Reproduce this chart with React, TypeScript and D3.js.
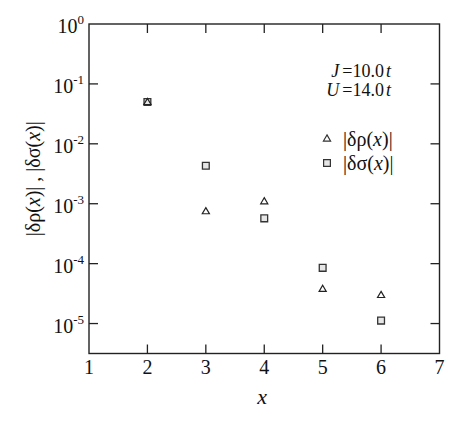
import React, { useRef, useEffect } from 'react'
import * as d3 from 'd3'

const xs = [2, 3, 4, 5, 6]
const rhoValues = [0.05, 7.5e-4, 1.1e-3, 3.8e-5, 3.0e-5]
const sigmaValues = [0.05, 4.3e-3, 5.7e-4, 8.5e-5, 1.12e-5]
const xTicks = [1, 2, 3, 4, 5, 6, 7]
const yExponents = [0, -1, -2, -3, -4, -5]

const FONT = 'Liberation Serif'

export default function App() {
  const svgRef = useRef<SVGSVGElement>(null)

  useEffect(() => {
    if (!svgRef.current) return
    const svg = d3.select(svgRef.current)
    svg.selectAll('*').remove()

    const width = 463
    const height = 429
    const margin = { t: 24, r: 23.5, b: 75.5, l: 89 }
    const x = d3.scaleLinear().domain([1, 7]).range([margin.l, width - margin.r])
    const y = d3.scaleLog().domain([Math.pow(10, -5.5), 1]).range([height - margin.b, margin.t])
    const x0 = x.range()[0], x1 = x.range()[1]
    const y0 = y.range()[0], y1 = y.range()[1]
    const axisColor = '#222'
    const tickLen = 9

    svg.append('rect').attr('width', width).attr('height', height).attr('fill', '#fff')

    // frame
    svg.append('rect')
      .attr('x', x0).attr('y', y1)
      .attr('width', x1 - x0).attr('height', y0 - y1)
      .attr('fill', 'none').attr('stroke', axisColor).attr('stroke-width', 1.4)

    // x ticks, top and bottom
    const inner = xTicks.slice(1, -1)
    svg.append('g').selectAll('line').data(inner).enter().append('line')
      .attr('x1', d => x(d)).attr('x2', d => x(d))
      .attr('y1', y0).attr('y2', y0 - tickLen)
      .attr('stroke', axisColor).attr('stroke-width', 1.3)
    svg.append('g').selectAll('line').data(inner).enter().append('line')
      .attr('x1', d => x(d)).attr('x2', d => x(d))
      .attr('y1', y1).attr('y2', y1 + tickLen)
      .attr('stroke', axisColor).attr('stroke-width', 1.3)

    // y ticks, left and right
    const innerY = yExponents.slice(1)
    svg.append('g').selectAll('line').data(innerY).enter().append('line')
      .attr('x1', x0).attr('x2', x0 + tickLen)
      .attr('y1', d => y(Math.pow(10, d))).attr('y2', d => y(Math.pow(10, d)))
      .attr('stroke', axisColor).attr('stroke-width', 1.3)
    svg.append('g').selectAll('line').data(innerY).enter().append('line')
      .attr('x1', x1).attr('x2', x1 - tickLen)
      .attr('y1', d => y(Math.pow(10, d))).attr('y2', d => y(Math.pow(10, d)))
      .attr('stroke', axisColor).attr('stroke-width', 1.3)

    // x tick labels
    svg.append('g').selectAll('text').data(xTicks).enter().append('text')
      .attr('x', d => x(d)).attr('y', y0 + 20)
      .attr('text-anchor', 'middle')
      .attr('font-family', FONT).attr('font-size', 20).attr('fill', '#111')
      .text(d => d)

    // y tick labels: 10^n
    const yl = svg.append('g').selectAll('text').data(yExponents).enter().append('text')
      .attr('x', x0 - 5).attr('y', d => y(Math.pow(10, d)) + 9)
      .attr('text-anchor', 'end')
      .attr('font-family', FONT).attr('font-size', 20).attr('fill', '#111')
    yl.append('tspan').text('10')
    yl.append('tspan').attr('dy', -9).attr('font-size', 13).text(d => d === 0 ? '0' : `-${-d}`)

    // axis titles
    svg.append('text')
      .attr('x', x(4) - 2).attr('y', y0 + 50)
      .attr('text-anchor', 'middle')
      .attr('font-family', FONT).attr('font-size', 22).attr('font-style', 'italic').attr('fill', '#111')
      .text('x')

    const yt = svg.append('text')
      .attr('transform', `translate(40,${(y0 + y1) / 2 - 10}) rotate(-90)`)
      .attr('text-anchor', 'middle')
      .attr('font-family', FONT).attr('font-size', 20).attr('fill', '#111')
    yt.append('tspan').text('|δρ(')
    yt.append('tspan').attr('font-style', 'italic').text('x')
    yt.append('tspan').text(')| , |δσ(')
    yt.append('tspan').attr('font-style', 'italic').text('x')
    yt.append('tspan').text(')|')

    // markers
    const tri = d3.symbol().type(d3.symbolTriangle).size(22)
    const sq = d3.symbol().type(d3.symbolSquare).size(46)

    svg.append('g').selectAll('path').data(xs).enter().append('path')
      .attr('d', sq)
      .attr('transform', (d, i) => `translate(${x(d)},${y(sigmaValues[i])})`)
      .attr('fill', '#e6e6e6').attr('stroke', '#333').attr('stroke-width', 1.3)
    svg.append('g').selectAll('path').data(xs).enter().append('path')
      .attr('d', tri)
      .attr('transform', (d, i) => `translate(${x(d)},${y(rhoValues[i]) + 0.5})`)
      .attr('fill', 'none').attr('stroke', '#222').attr('stroke-width', 1.2)

    // parameters
    const params = [['J', '10.0'], ['U', '14.0']]
    params.forEach((p, i) => {
      const t = svg.append('text')
        .attr('x', 391).attr('y', 77 + i * 19)
        .attr('text-anchor', 'end')
        .attr('font-family', FONT).attr('font-size', 18).attr('fill', '#111')
      t.append('tspan').attr('font-style', 'italic').text(p[0])
      t.append('tspan').attr('dx', 3).text(`=${p[1]}`)
      t.append('tspan').attr('dx', 2).attr('font-style', 'italic').text('t')
    })

    // legend
    const legend = [
      { sym: tri, label: 'ρ', fill: 'none' },
      { sym: sq, label: 'σ', fill: '#e6e6e6' },
    ]
    legend.forEach((l, i) => {
      const ly = 139 + i * 24
      svg.append('path').attr('d', l.sym)
        .attr('transform', `translate(327,${ly})`)
        .attr('fill', l.fill).attr('stroke', '#333').attr('stroke-width', 1.2)
      const t = svg.append('text')
        .attr('x', 343).attr('y', ly + 7)
        .attr('font-family', FONT).attr('font-size', 20).attr('fill', '#111')
      t.append('tspan').text(`|δ${l.label}(`)
      t.append('tspan').attr('font-style', 'italic').text('x')
      t.append('tspan').text(')|')
    })
  }, [])

  return (
    <svg ref={svgRef} width={463} height={429}
      style={{ position: 'absolute', left: 0, top: 0, display: 'block' }} />
  )
}
